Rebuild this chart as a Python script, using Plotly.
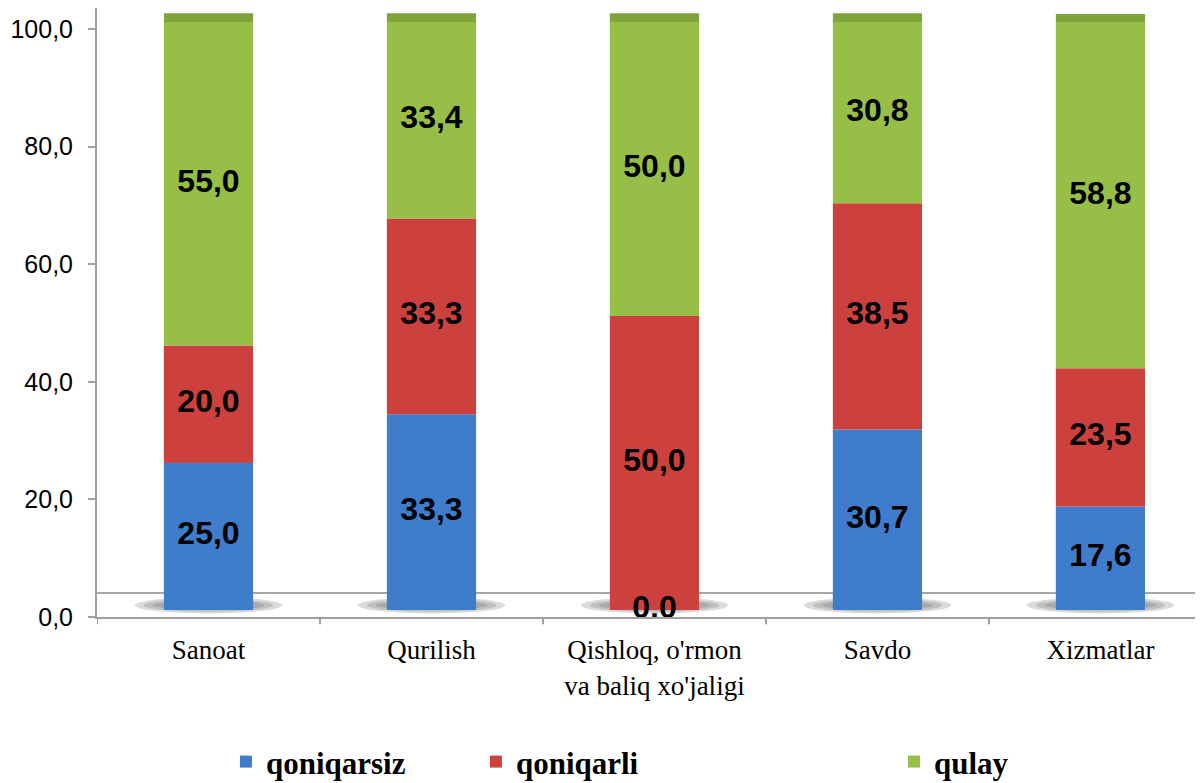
import plotly.graph_objects as go
import numpy as np

categories = ["Sanoat", "Qurilish", "Qishloq, o'rmon<br>va baliq xo'jaligi", "Savdo", "Xizmatlar"]
qoniqarsiz = [25.0, 33.3, 0.0, 30.7, 17.6]
qoniqarli = [20.0, 33.3, 50.0, 38.5, 23.5]
qulay = [55.0, 33.4, 50.0, 30.8, 58.8]
series_names = ["qoniqarsiz", "qoniqarli", "qulay"]
y_tickvals = [0, 20, 40, 60, 80, 100]
y_ticktext = ["0,0", "20,0", "40,0", "60,0", "80,0", "100,0"]

series = [qoniqarsiz, qoniqarli, qulay]
colors = ["#3F7DCC", "#CC413D", "#97BF47"]
legend_ids = ["legend", "legend2", "legend3"]
FLOOR_OFFSET = 1.2  # pseudo-3D floor lift

fig = go.Figure()
idx = np.arange(len(categories))
cum = np.full(len(categories), FLOOR_OFFSET)
label_x, label_y, label_t = [], [], []
for name, vals, col, lg in zip(series_names, series, colors, legend_ids):
    v = np.array(vals)
    fig.add_trace(go.Bar(
        x=idx, y=v, base=cum.copy(), name=name, width=0.4,
        marker=dict(color=col, line=dict(width=0)),
        legend=lg, hovertemplate="%{y}<extra>" + name + "</extra>",
    ))
    for i, val in enumerate(v):
        label_x.append(i)
        label_y.append(cum[i] + val / 2)
        label_t.append(f"{val:.1f}".replace(".", ","))
    cum = cum + v

fig.add_trace(go.Scatter(
    x=label_x, y=label_y, text=label_t, mode="text", showlegend=False,
    textfont=dict(family="Liberation Sans, Arial, sans-serif", size=32, color="black", weight="bold"),
    hoverinfo="skip",
))

shapes = []
for i in idx:
    # soft shadow under each bar (stacked translucent ellipses)
    for k, (dx, dy) in enumerate([(0.33, 1.4), (0.29, 1.1), (0.25, 0.8)]):
        shapes.append(dict(type="circle", xref="x", yref="y", x0=i - dx, x1=i + dx,
                           y0=2.0 - dy, y1=2.0 + dy,
                           fillcolor="rgba(90,90,90,0.22)", line=dict(width=0), layer="below"))
    # darker bevelled top cap
    shapes.append(dict(type="rect", xref="x", yref="y", x0=i - 0.2, x1=i + 0.2,
                       y0=cum[i], y1=cum[i] + 1.5,
                       fillcolor="#7FA53A", line=dict(width=0), layer="above"))
shapes.append(dict(type="line", xref="x", yref="y", x0=-0.5, x1=4.5, y0=4.1, y1=4.1,
                   line=dict(color="#A6A6A6", width=2), layer="below"))
for b in np.arange(-0.5, 4.6, 1.0):
    shapes.append(dict(type="line", xref="x", yref="paper", x0=b, x1=b, y0=0, y1=-0.012,
                       line=dict(color="#A0A0A0", width=2)))
fig.update_layout(shapes=shapes)

legend_common = dict(orientation="h", yanchor="middle", xanchor="left", y=-0.238,
                     font=dict(family="Liberation Serif, Times New Roman, serif", size=31, color="black", weight="bold"),
                     bgcolor="rgba(0,0,0,0)")
fig.update_layout(
    width=1195, height=775,
    margin=dict(l=89, r=0, t=0, b=166, autoexpand=False),
    plot_bgcolor="white", paper_bgcolor="white",
    barmode="overlay",
    legend=dict(x=0.1166, **legend_common),
    legend2=dict(x=0.3426, **legend_common),
    legend3=dict(x=0.7206, **legend_common),
    xaxis=dict(
        tickvals=list(idx), ticktext=categories, range=[-0.5, 4.46],
        showline=True, linecolor="#A0A0A0", linewidth=2,
        ticks="", showgrid=False, zeroline=False,
        tickfont=dict(family="Liberation Serif, Times New Roman, serif", size=27, color="black"),
        ticklabelstandoff=8,
    ),
    yaxis=dict(
        range=[0, 103.6], tickvals=y_tickvals, ticktext=y_ticktext,
        showline=True, linecolor="#A0A0A0", linewidth=2,
        ticks="outside", ticklen=7, tickcolor="#A0A0A0", tickwidth=2,
        showgrid=False, zeroline=False,
        tickfont=dict(family="Liberation Sans, Arial, sans-serif", size=25, color="black"),
        ticklabelstandoff=10,
    ),
)

fig.write_html("out.html")
